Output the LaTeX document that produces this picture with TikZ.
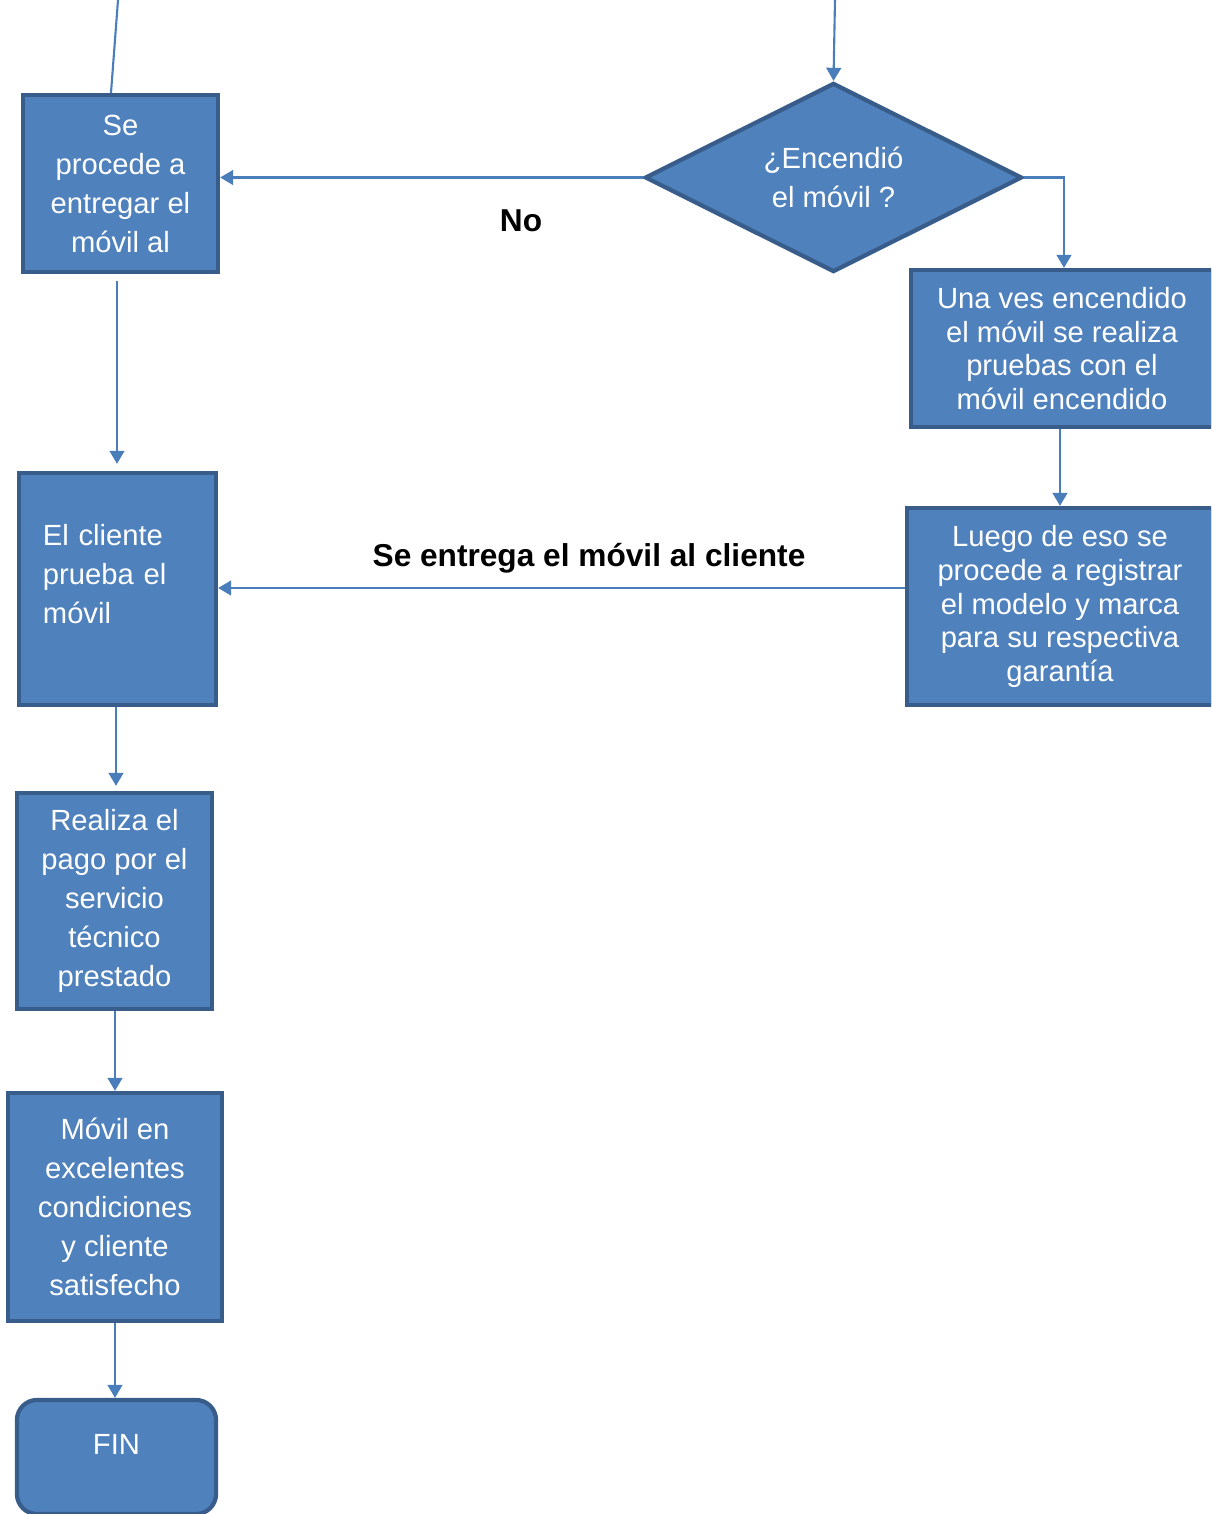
\documentclass[tikz,border=0pt]{standalone}
\usepackage{fontspec}
\setmainfont{Liberation Sans}
\usepackage{tikz}
\usetikzlibrary{arrows.meta,shapes.geometric}

\definecolor{boxfill}{HTML}{4F81BD}
\definecolor{boxline}{HTML}{385D8A}
\definecolor{linkblue}{HTML}{4A7EBB}

\begin{document}
\begin{tikzpicture}[
        x=0.01cm, y=-0.01cm,
        block/.style={
            rectangle,
            draw=boxline,
            fill=boxfill,
            line width=1.2pt,
            text=white,
            align=center,
            inner sep=0pt,
            font=\fontsize{8.3}{11.1}\selectfont
        },
        tightblock/.style={
            block,
            font=\fontsize{8.3}{9.6}\selectfont
        },
        decision/.style={
            diamond,
            draw=boxline,
            fill=boxfill,
            line width=1.2pt,
            text=white,
            align=center,
            aspect=2,
            inner sep=1pt,
            minimum width=3.77cm,
            minimum height=1.89cm,
            font=\fontsize{8.3}{11.1}\selectfont
        },
        terminal/.style={
            block,
            rounded corners=0.2cm
        },
        lbl/.style={
            font=\fontsize{9}{10.5}\selectfont\bfseries
        },
        arrow/.style={-{Triangle[width=4.2pt,length=3.7pt]}, draw=linkblue, line width=0.6pt},
        plain/.style={draw=linkblue, line width=0.6pt}
    ]

        \clip (0,0) rectangle (1211,1514);

        % Left column
        \node[block, minimum width=1.95cm, minimum height=1.77cm] (entrega) at (120.5,183.5) {Se\\procede a\\entregar el\\móvil al};
        \node[block, align=left, text width=1.49cm, inner xsep=0.24cm, minimum height=2.32cm] (cliente) at (117.5,589) {El cliente\\prueba el\\móvil\\[-0.08cm]~};
        \node[block, minimum width=1.95cm, minimum height=2.16cm] (pago) at (114.5,901) {Realiza el\\pago por el\\servicio\\técnico\\prestado};
        \node[block, minimum width=2.14cm, minimum height=2.28cm] (condiciones) at (115,1207) {Móvil en\\excelentes\\condiciones\\y cliente\\satisfecho};
        \node[terminal, minimum width=1.99cm, minimum height=1.14cm, text height=6pt, text depth=7.4pt] (fin) at (116.5,1457) {FIN};

        % Right column
        \node[decision] (encendio) at (833.5,177.5) {¿Encendió\\el móvil ?};
        \node[tightblock, minimum width=3.02cm, minimum height=1.57cm] (pruebas) at (1062,348.5) {Una ves encendido\\el móvil se realiza\\pruebas con el\\móvil encendido};
        \node[tightblock, minimum width=3.06cm, minimum height=1.97cm] (registro) at (1060,606.5) {Luego de eso se\\procede a registrar\\el modelo y marca\\para su respectiva\\garantía};

        % Incoming lines
        \coordinate (inleft) at (118,0);
        \coordinate (inright) at (835,0);
        \draw[plain] (inleft) -- ([xshift=-0.095cm]entrega.north);
        \draw[arrow] (inright) -- (encendio.north);

        % Decision arrows
        \draw[arrow] (encendio.west) -- (encendio.west -| entrega.east);
        \node[lbl] (no) at (521,221) {No};
        \draw[arrow] (encendio.east) -| ([xshift=0.02cm]pruebas.north);
        \draw[arrow] ([xshift=-0.02cm]pruebas.south) -- ([xshift=-0.02cm]pruebas.south |- registro.north);
        \draw[arrow] (registro.west |- 0,588) -- (cliente.east |- 0,588);
        \node[lbl] (seentrega) at (589,558) {Se entrega el móvil al cliente};

        % Left column arrows
        \draw[arrow, shorten <=0.07cm, shorten >=0.07cm] ([xshift=-0.035cm]entrega.south) -- ([xshift=-0.035cm]entrega.south |- cliente.north);
        \draw[arrow, shorten >=0.05cm] (cliente.south -| 116,0) -- (pago.north -| 116,0);
        \draw[arrow] (pago.south -| 115,0) -- (condiciones.north);
        \draw[arrow] (condiciones.south) -- (fin.north -| condiciones.south);

    \end{tikzpicture}
\end{document}
